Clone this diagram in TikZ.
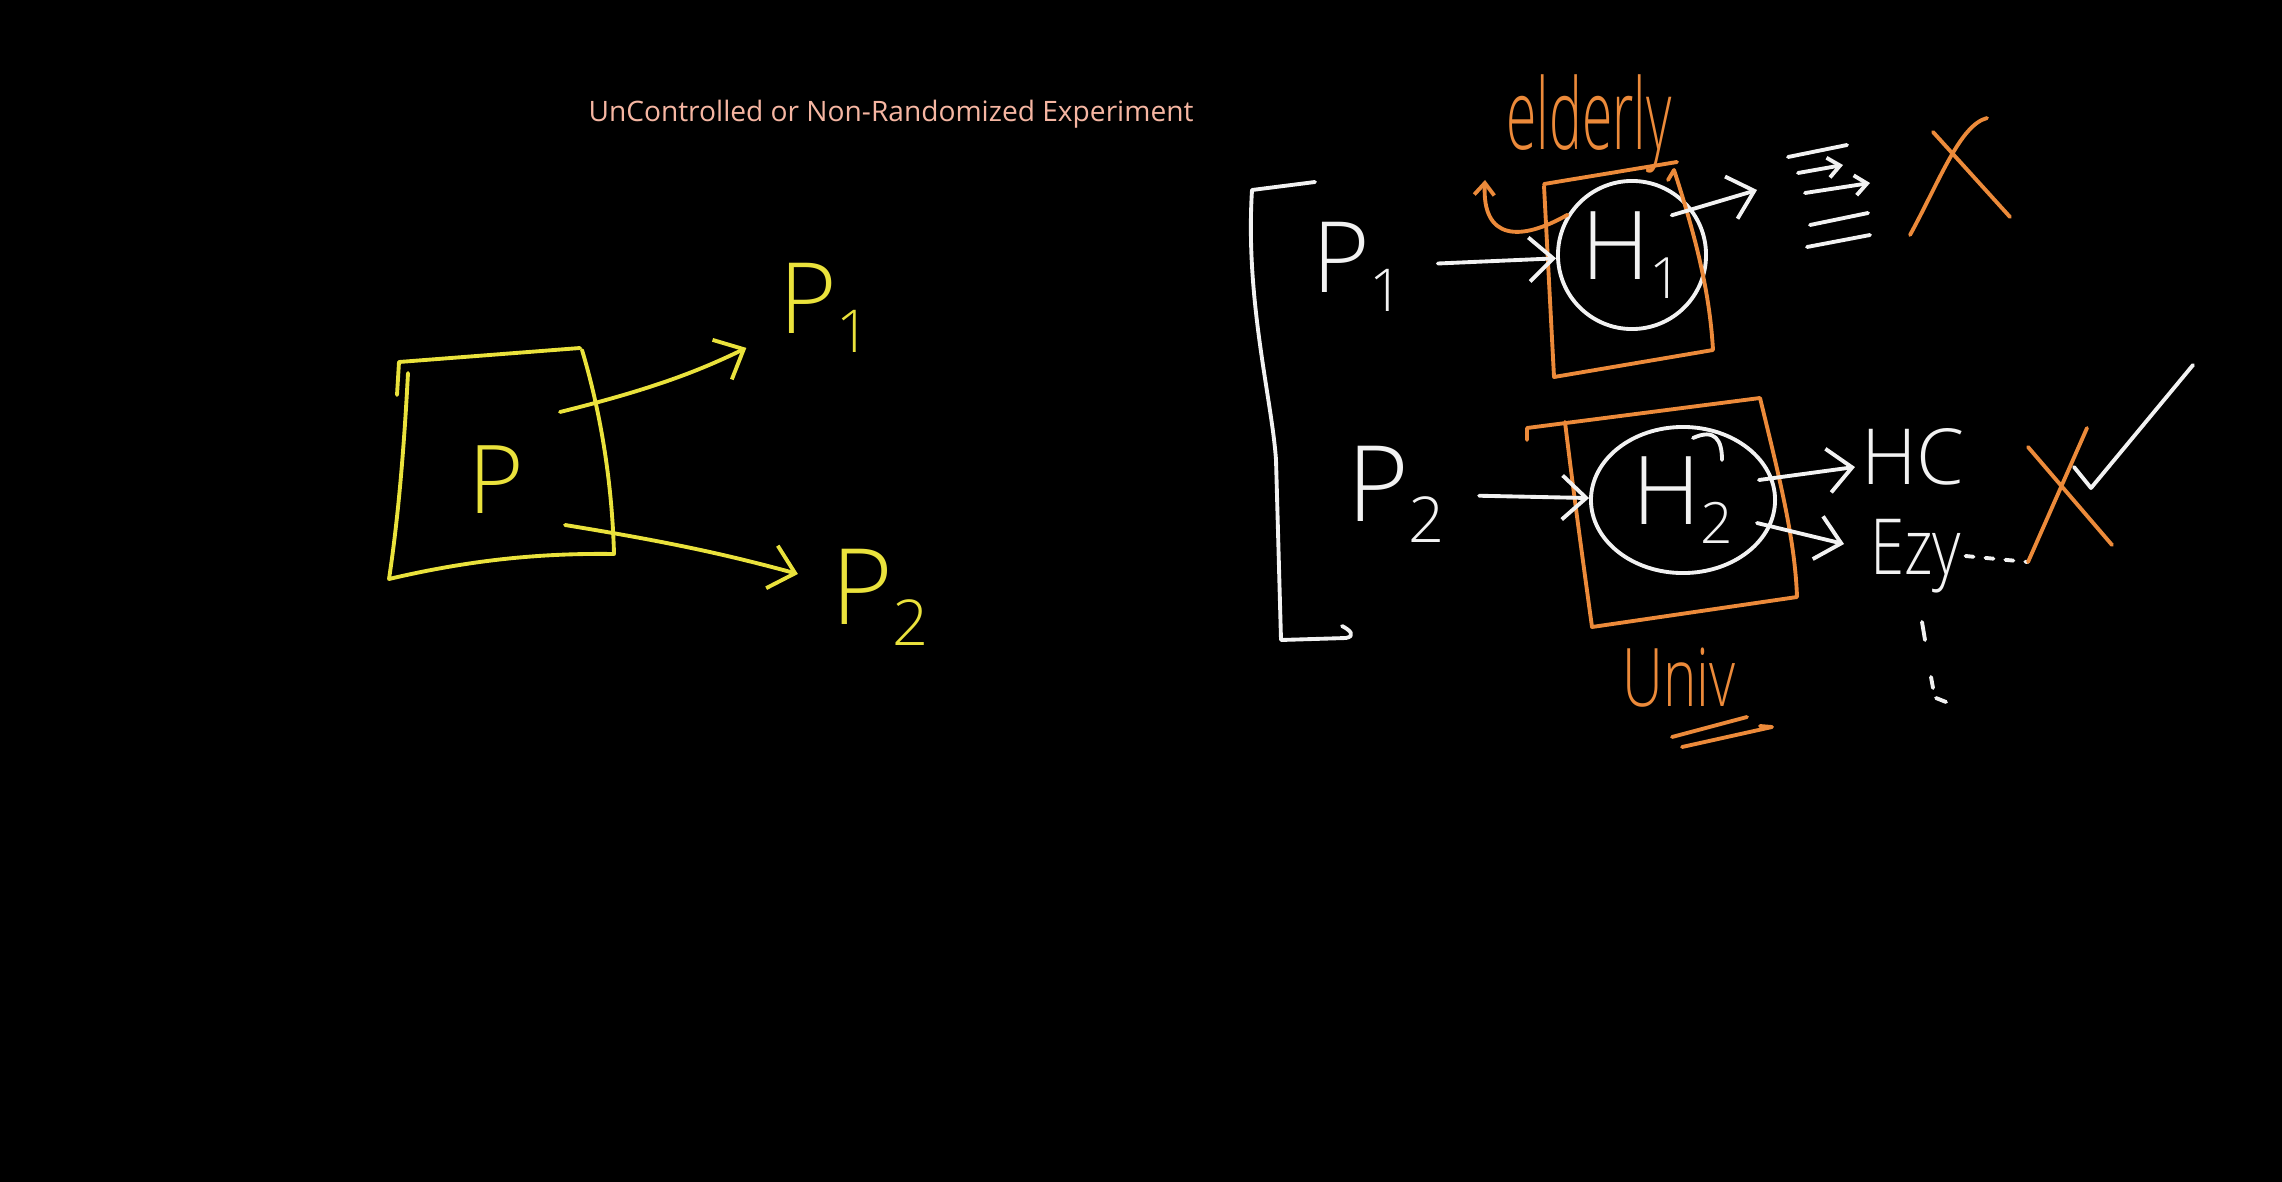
\documentclass[tikz,border=0pt]{standalone}
\usepackage{fontspec}
\newfontfamily\titlefont{Open Sans}
\newfontfamily\handfont{Open Sans Light}
\usepackage{tikz}
\usetikzlibrary{arrows.meta, shapes.geometric, calc}
\definecolor{inkyellow}{HTML}{EAE23C}
\definecolor{inkorange}{HTML}{EC8A3A}
\definecolor{inkwhite}{HTML}{F2F2F2}
\definecolor{inksalmon}{HTML}{F6B6A2}
\newcommand{\hsub}[1]{\raisebox{-0.2em}{\scalebox{0.6}{#1}}}
\tikzset{
  ink/.style={line width=1.1pt, line cap=round, line join=round},
  hand/.style={font=\handfont\fontsize{#1}{#1}\selectfont, inner sep=1pt},
  barb/.style={-{Straight Barb[length=2.4mm, width=4.4mm]}},
  smallbarb/.style={-{Straight Barb[length=1.2mm, width=2mm]}},
}

\begin{document}
\begin{tikzpicture}[x=0.01cm, y=-0.01cm]
\fill[black] (0,0) rectangle (2282,1182);
\node[text=inksalmon, font=\titlefont\fontsize{8}{10}\selectfont] (title) at (891,114) {UnControlled or Non-Randomized Experiment};

\draw[ink, inkyellow] (397,395) -- (399,362) -- (580,348);
\draw[ink, inkyellow] (408,373) .. controls (404,450) and (398,520) .. (389,579) .. controls (470,560) and (540,553) .. (614,554) .. controls (612,480) and (600,410) .. (582,350);
\node[hand=27, text=inkyellow] (P) at (496,480) {P};
\node[hand=28, text=inkyellow] (P1) at (825,308) {P\hsub{1}};
\node[hand=30, text=inkyellow] (P2) at (880,597) {P\hsub{2}};
\coordinate (Pa) at (560,412);
\coordinate (Pb) at (565,525);
\draw[ink, inkyellow, barb, shorten >=0.32cm] (Pa) to[bend right=6] (P1);
\draw[ink, inkyellow, barb, shorten >=0.3cm] (Pb) to[bend left=3] (P2);

\draw[ink, inkwhite] (1315,182) -- (1252,190) .. controls (1245,300) and (1272,400) .. (1276,460) -- (1281,640) -- (1346,638) .. controls (1356,636) and (1350,630) .. (1342,626);
\node[hand=28, text=inkwhite] (Q1) at (1358,267) {P\hsub{1}};
\node[hand=30, text=inkwhite] (Q2) at (1396,494) {P\hsub{2}};

\node[circle, draw=inkwhite, ink, minimum size=1.48cm, inner sep=0pt, hand=27, text=inkwhite] (H1) at (1632,255) {H\hsub{1}};
\node[ellipse, draw=inkwhite, ink, minimum width=1.84cm, minimum height=1.46cm, inner sep=0pt, hand=27, text=inkwhite] (H2) at (1683,500) {H\hsub{2}};
\draw[ink, inkwhite] (1693,438) .. controls (1715,428) and (1722,440) .. (1722,460);

\draw[ink, inkorange] (1544,184) -- (1677,162);
\draw[ink, inkorange] (1668,180) -- (1674,170) .. controls (1700,250) and (1710,300) .. (1713,350) -- (1554,377) -- (1544,186);
\draw[ink, inkorange] (1527,440) -- (1527,428) -- (1760,398) .. controls (1780,480) and (1795,540) .. (1797,597) -- (1592,627) .. controls (1580,540) and (1572,480) .. (1565,422);

\node[hand=28, text=inkorange] (elderly) at (1589,124) {\scalebox{0.56}[1]{elderly}};
\node[hand=23, text=inkorange] (univ) at (1679,678) {\scalebox{0.7}[1]{Univ}};
\draw[ink, inkorange] (1672,737) -- (1747,717);
\draw[ink, inkorange] (1682,747) -- (1772,727) -- (1760,726);
\coordinate (hookend) at (1485,180);
\draw[ink, inkorange, smallbarb] (H1.148) .. controls (1520,242) and (1482,240) .. (hookend);

\draw[ink, inkwhite, barb, shorten <=0.3cm] (Q1) -- (H1);
\draw[ink, inkwhite, barb, shorten <=0.3cm] (Q2) -- (H2);

\coordinate (lines) at (1757,190);
\draw[ink, inkwhite, barb] ([shift={(-14,14)}]H1.north east) -- (lines);
\foreach \ya/\xa/\xb in {157/1788/1847, 225/1810/1868, 247/1807/1870}
  \draw[ink, inkwhite] (\xa,\ya) -- (\xb,\ya-12);
\draw[ink, inkwhite, smallbarb] (1798,173) -- (1843,165);
\draw[ink, inkwhite, smallbarb] (1805,193) -- (1870,183);

\draw[ink, inkorange] (1910,235) .. controls (1940,180) and (1960,125) .. (1987,118);
\draw[ink, inkorange] (1933,132) -- (2010,217);

\node[hand=22, text=inkwhite] (HC) at (1913,457) {HC};
\node[hand=22, text=inkwhite, anchor=west] (Ezy) at (1866,556) {\scalebox{0.8}[1]{Ezy}};
\draw[ink, inkwhite, barb] ([shift={(-18,-20)}]H2.east) -- ([shift={(-2,10)}]HC.west);
\draw[ink, inkwhite, barb] ([shift={(-20,23)}]H2.east) -- ([shift={(-22,-12)}]Ezy.west);
\coordinate (x2a) at (2028,562);
\draw[ink, inkwhite, dash pattern=on 0.08cm off 0.12cm] (Ezy.east) -- (x2a);
\draw[ink, inkwhite] (1922,622) -- (1925,640);
\draw[ink, inkwhite] (1931,677) -- (1933,688);
\draw[ink, inkwhite] (1936,698) -- (1946,702);

\draw[ink, inkorange] (x2a) -- (2087,428);
\draw[ink, inkorange] (2028,447) -- (2112,545);
\draw[ink, inkwhite] (2074,467) -- (2091,488) -- (2193,365);
\end{tikzpicture}
\end{document}
